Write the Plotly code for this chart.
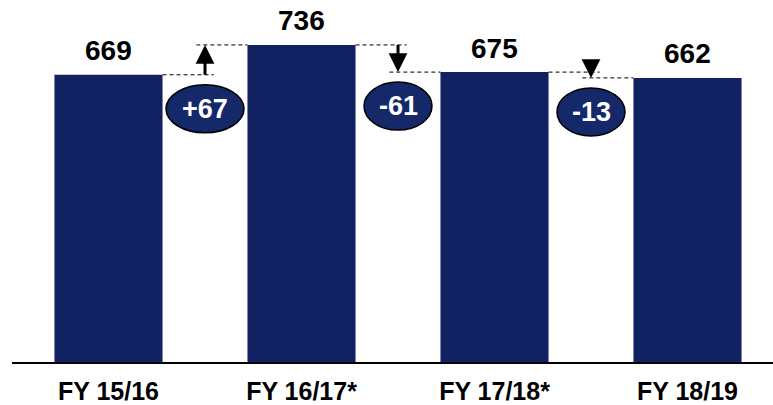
import plotly.graph_objects as go

categories = ["FY 15/16", "FY 16/17*", "FY 17/18*", "FY 18/19"]
values = [669, 736, 675, 662]
delta_labels = ["+67", "-61", "-13"]

BAR = "#112161"
OVAL = "#15286a"
FONT = "Liberation Sans, Arial, sans-serif"
BW = 0.56
PX_PER_UNIT = 0.4527
Y0 = 24

x = list(range(len(categories)))
fig = go.Figure()
fig.add_trace(go.Bar(x=x, y=values, width=BW, marker=dict(color=BAR, line=dict(width=0)),
                     hoverinfo="skip"))

ann = []
shapes = []
for i, v in enumerate(values):
    ann.append(dict(x=i, y=v, text=str(v), showarrow=False, yanchor="middle", yshift=24,
                    font=dict(family=FONT, size=28, color="black", weight="bold")))

for k, lab in enumerate(delta_labels):
    a, b = values[k], values[k + 1]
    mid = k + 0.5
    # dashed guide lines
    shapes.append(dict(type="line", xref="x", yref="y", x0=k + BW / 2, x1=mid + 0.045, y0=a, y1=a,
                       line=dict(color="black", width=1, dash="4px,3px")))
    shapes.append(dict(type="line", xref="x", yref="y", x0=mid - 0.045, x1=k + 1 - BW / 2, y0=b, y1=b,
                       line=dict(color="black", width=1, dash="4px,3px")))
    # arrow (pixel length from the change, with a minimum so the head shows)
    dist = max(abs(b - a) * PX_PER_UNIT, 15)
    ann.append(dict(x=mid, y=b, ax=0, ay=dist if b > a else -dist, xref="x", yref="y",
                    text="", font=dict(size=1), borderpad=0, showarrow=True,
                    arrowhead=2, arrowwidth=3, arrowsize=1.25, arrowcolor="black"))
    # oval
    w = 39 if lab.startswith("+") else 34
    low = min(a, b)
    shapes.append(dict(type="circle", xref="x", yref="y", xsizemode="pixel", ysizemode="pixel",
                       xanchor=mid, yanchor=low, x0=-w, x1=w, y0=-58, y1=-10,
                       fillcolor=OVAL, line=dict(color="black", width=1.5), layer="above"))
    ann.append(dict(x=mid, y=low, text=lab, showarrow=False, yanchor="middle", yshift=-34,
                    font=dict(family=FONT, size=27, color="white", weight="bold")))

fig.update_layout(
    width=773, height=405,
    margin=dict(l=12, r=0, t=0, b=37),
    paper_bgcolor="white", plot_bgcolor="white",
    showlegend=False,
    annotations=ann, shapes=shapes,
    xaxis=dict(range=[-0.5, -0.5 + 761 / 193], tickvals=x, ticktext=categories,
               showline=True, linecolor="black", linewidth=2, ticks="", showgrid=False,
               zeroline=False, fixedrange=True, ticklabelstandoff=6,
               tickfont=dict(family=FONT, size=25, color="black", weight="bold")),
    yaxis=dict(range=[Y0, Y0 + 368 / PX_PER_UNIT], visible=False, showgrid=False,
               zeroline=False, fixedrange=True),
)

fig.write_html("out.html", config=dict(displayModeBar=False),
               post_script="document.body.style.margin='0';document.body.style.overflow='hidden';")
